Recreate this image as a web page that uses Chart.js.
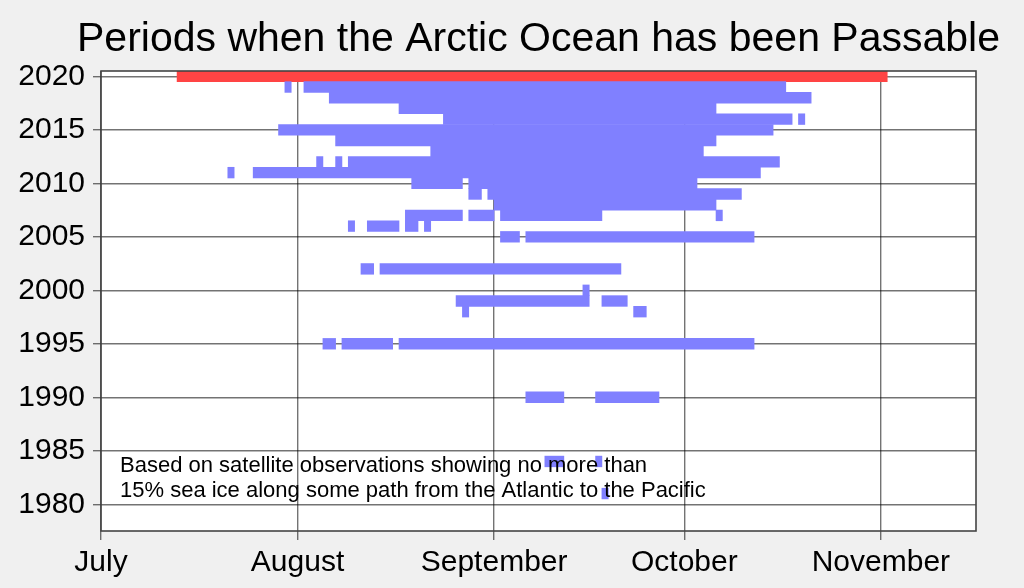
<!DOCTYPE html>
<html><head><meta charset="utf-8">
<script src="https://cdn.jsdelivr.net/npm/chart.js@4/dist/chart.umd.min.js"></script>
<style>html,body{margin:0;padding:0;background:#f0f0f0;} canvas{display:block;}</style>
</head><body>
<canvas id="c" width="1024" height="588"></canvas>
<script>
// Text
const chartTitle = 'Periods when the Arctic Ocean has been Passable';
const noteLines = ['Based on satellite observations showing no more than',
                   '15% sea ice along some path from the Atlantic to the Pacific'];

// X axis: days counted from July 1 (0 = July 1)
const monthTicks  = [0, 31, 62, 92, 123];
const monthLabels = ['July', 'August', 'September', 'October', 'November'];
// Y axis ticks (years)
const yearTicks = [1980, 1985, 1990, 1995, 2000, 2005, 2010, 2015, 2020];

// Passable periods (segments): year, first day, end day (days from July 1)
const segYear  = [2019,2019, 2018, 2017, 2016,2016, 2015, 2014, 2013,
                  2012,2012,2012, 2011,2011, 2010,2010, 2009,2009, 2008,
                  2007,2007,2007,2007, 2006,2006,2006,2006, 2005,2005,
                  2002,2002, 2000, 1999,1999, 1998,1998, 1995,1995,1995,
                  1990,1990, 1984,1984, 1981];
const segStart = [29,32, 36, 47, 54,110, 28, 37, 52,
                  34,37,39, 20,24, 49,58, 58,61, 62,
                  48,58,63,97, 39,42,48,51, 63,67,
                  41,44, 76, 56,79, 57,84, 35,38,47,
                  67,78, 70,78, 79];
const segEnd   = [30,108, 112, 97, 109,111, 106, 97, 95,
                  35,38,107, 21,104, 57,94, 60,101, 97,
                  57,62,79,98, 40,47,50,52, 66,103,
                  43,82, 77, 77,83, 58,86, 37,46,103,
                  73,88, 73,79, 80];
// Current (2020) season
const currentYear  = [2020];
const currentStart = [12];
const currentEnd   = [124];

const FONT = '"Liberation Sans", Arial, sans-serif';

const framePlugin = {
  id: 'frame',
  beforeDraw(chart) {
    const {ctx, chartArea: a} = chart;
    ctx.save();
    ctx.fillStyle = '#ffffff';
    ctx.fillRect(a.left, a.top, a.right - a.left, a.bottom - a.top);
    ctx.restore();
  },
  afterDraw(chart) {
    const {ctx, chartArea: a} = chart;
    ctx.save();
    ctx.strokeStyle = '#444444';
    ctx.lineWidth = 1.6;
    ctx.strokeRect(a.left, a.top, a.right - a.left, a.bottom - a.top);
    ctx.fillStyle = '#000000';
    ctx.textBaseline = 'alphabetic';
    ctx.font = '41px ' + FONT;
    ctx.textAlign = 'center';
    ctx.fillText(chartTitle, (a.left + a.right) / 2, 51);
    ctx.font = '22px ' + FONT;
    ctx.textAlign = 'left';
    ctx.fillText(noteLines[0], a.left + 19, 472);
    ctx.fillText(noteLines[1], a.left + 19, 497);
    ctx.restore();
  }
};

const barOpts = {grouped: false, barPercentage: 1, categoryPercentage: 1, borderWidth: 0};

new Chart(document.getElementById('c'), {
  type: 'bar',
  data: {
    datasets: [
      Object.assign({
        label: 'Passable',
        data: segYear.map((y, i) => ({y: y, x: [segStart[i], segEnd[i]]})),
        backgroundColor: 'rgb(128,128,255)'
      }, barOpts),
      Object.assign({
        label: '2020',
        data: currentYear.map((y, i) => ({y: y, x: [currentStart[i], currentEnd[i]]})),
        backgroundColor: 'rgb(255,68,68)'
      }, barOpts)
    ]
  },
  options: {
    indexAxis: 'y',
    responsive: false,
    animation: false,
    events: [],
    layout: {padding: {top: 71, right: 48, left: 0, bottom: 0}},
    plugins: {legend: {display: false}, tooltip: {enabled: false}, title: {display: false}},
    scales: {
      x: {
        type: 'linear', position: 'bottom', min: 0, max: 138, z: 1, offset: false,
        afterBuildTicks: s => { s.ticks = monthTicks.map(v => ({value: v})); },
        afterFit: s => { s.height = 57; },
        ticks: {
          callback: v => monthLabels[monthTicks.indexOf(v)],
          font: {size: 30, family: FONT}, color: '#000', padding: 5,
          maxRotation: 0, autoSkip: false
        },
        grid: {color: 'rgba(0,0,0,0.55)', lineWidth: 1.4, tickLength: 9, offset: false},
        border: {display: false}
      },
      y: {
        type: 'linear', position: 'left', min: 1977.5, max: 2020.5, z: 1, offset: false,
        afterBuildTicks: s => { s.ticks = yearTicks.map(v => ({value: v})); },
        afterFit: s => { s.width = 101; },
        ticks: {
          callback: v => String(v),
          font: {size: 30, family: FONT}, color: '#000', padding: 8, autoSkip: false
        },
        grid: {color: 'rgba(0,0,0,0.55)', lineWidth: 1.4, tickLength: 8, offset: false},
        border: {display: false}
      }
    }
  },
  plugins: [framePlugin]
});
</script>
</body></html>
